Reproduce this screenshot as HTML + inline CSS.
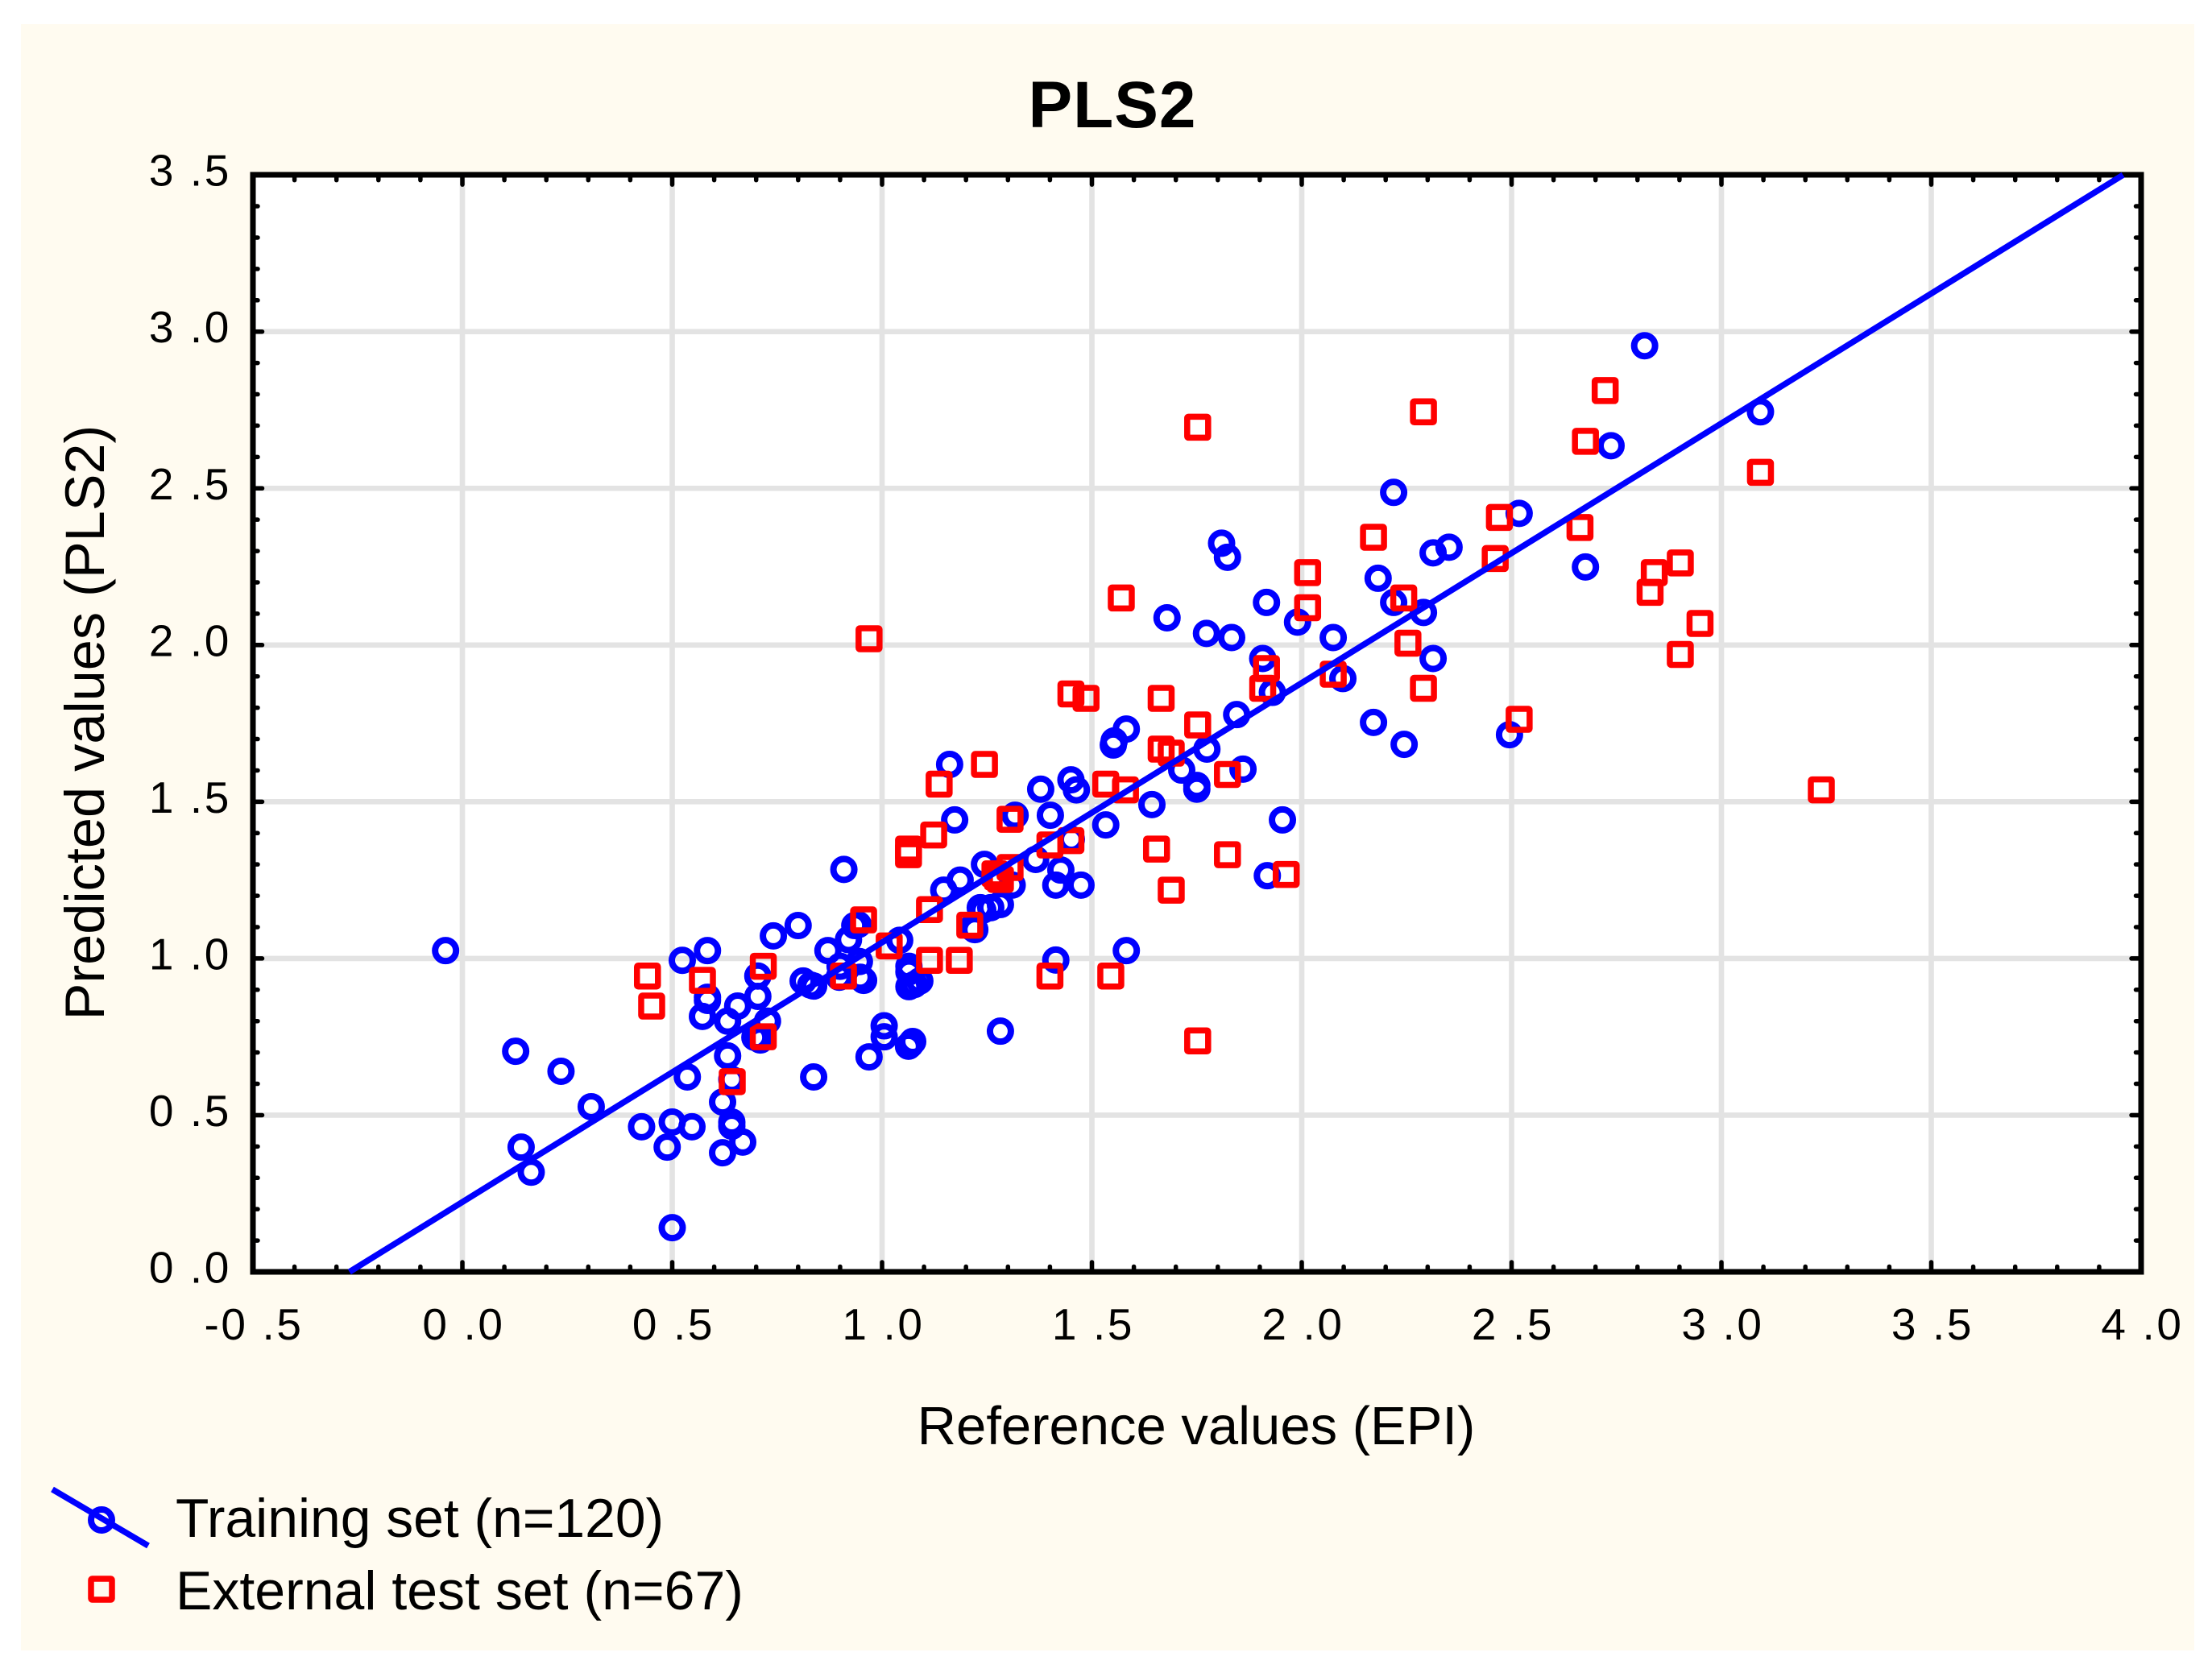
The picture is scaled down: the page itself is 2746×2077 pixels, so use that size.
<!DOCTYPE html>
<html lang="en">
<head>
<meta charset="utf-8">
<title>PLS2 chart</title>
<style>
html,body{margin:0;padding:0;background:#fff;width:2746px;height:2077px;overflow:hidden}
svg{display:block;font-family:"Liberation Sans",Arial,sans-serif}
</style>
</head>
<body>
<svg id="chart" xmlns="http://www.w3.org/2000/svg" width="2746" height="2077" viewBox="0 0 2746 2077">
<rect x="26" y="30" width="2698" height="2019" fill="#fffbf0"/>
<rect x="314" y="217" width="2344" height="1362" fill="#ffffff"/>
<g id="grid"></g>
<g id="ticks"></g>
<rect x="314" y="217" width="2344" height="1362" fill="none" stroke="#000" stroke-width="7"/>
<g id="tickLabels"></g>
<g id="training"></g>
<g id="test"></g>
<g id="fit"></g>
<text x="1381" y="158" font-size="82" font-weight="bold" letter-spacing="1" text-anchor="middle">PLS2</text>
<text x="1485" y="1793" font-size="67" text-anchor="middle">Reference values (EPI)</text>
<text transform="translate(129,897) rotate(-90)" font-size="68.5" text-anchor="middle">Predicted values (PLS2)</text>
<line x1="65" y1="1849" x2="184" y2="1919" stroke="#0000ff" stroke-width="7.5"/>
<circle cx="126" cy="1887" r="13" fill="none" stroke="#0000ff" stroke-width="8"/>
<text x="218" y="1908" font-size="67.8">Training set (n=120)</text>
<rect x="113" y="1960" width="26" height="26" rx="1.5" fill="none" stroke="#ff0000" stroke-width="7.5"/>
<text x="218" y="1998" font-size="68">External test set (n=67)</text>
</svg>
<script>
const xTickLabels = ["-0 .5","0 .0","0 .5","1 .0","1 .5","2 .0","2 .5","3 .0","3 .5","4 .0"];
const xTickValues = [-0.5,0,0.5,1,1.5,2,2.5,3,3.5,4];
const yTickLabels = ["0 .0","0 .5","1 .0","1 .5","2 .0","2 .5","3 .0","3 .5"];
const yTickValues = [0,0.5,1,1.5,2,2.5,3,3.5];
const fitLineX = [-0.269,3.957];
const fitLineY = [0,3.5];
const trainingPoints = [
[-0.04,1.025],[0.127,0.704],[0.14,0.398],[0.164,0.318],[0.235,0.64],[0.307,0.527],[0.427,0.463],[0.488,0.398],
[0.5,0.478],[0.547,0.463],[0.5,0.141],[0.536,0.622],[0.524,0.994],[0.584,1.025],[0.584,0.876],[0.584,0.866],
[0.572,0.815],[0.632,0.8],[0.656,0.848],[0.704,0.879],[0.704,0.944],[0.727,0.8],[0.704,0.75],[0.697,0.748],
[0.71,0.74],[0.632,0.689],[0.642,0.614],[0.62,0.542],[0.642,0.478],[0.642,0.465],[0.668,0.414],[0.62,0.38],
[0.837,0.622],[0.741,1.072],[0.8,1.105],[0.812,0.928],[0.837,0.912],[0.871,1.025],[0.83,0.915],[0.909,1.284],
[0.935,1.105],[0.943,1.108],[0.92,1.06],[0.898,0.94],[0.9,0.975],[0.946,0.99],[0.948,0.94],[0.956,0.93],
[0.952,0.935],[1.042,1.058],[1.064,0.975],[1.064,0.957],[1.064,0.91],[1.09,0.928],[1.077,0.917],[1.005,0.785],
[1.005,0.75],[1.073,0.735],[1.067,0.725],[1.063,0.72],[0.969,0.686],[1.282,0.768],[1.414,0.995],[1.582,1.025],
[1.173,1.442],[1.161,1.619],[1.147,1.218],[1.186,1.25],[1.244,1.3],[1.24,1.154],[1.234,1.162],[1.259,1.162],
[1.221,1.092],[1.215,1.098],[1.282,1.172],[1.31,1.234],[1.317,1.457],[1.401,1.457],[1.378,1.54],[1.45,1.57],
[1.463,1.538],[1.533,1.426],[1.451,1.38],[1.366,1.316],[1.426,1.282],[1.414,1.234],[1.474,1.234],[1.582,1.732],
[1.553,1.694],[1.551,1.681],[1.774,1.668],[1.714,1.601],[1.75,1.552],[1.75,1.54],[1.86,1.604],[1.643,1.491],
[1.954,1.442],[1.918,1.264],[2.171,1.753],[2.244,1.683],[2.495,1.714],[1.845,1.778],[1.93,1.849],[2.098,1.893],
[1.907,1.957],[2.313,1.957],[1.679,2.087],[1.773,2.037],[1.833,2.024],[2.075,2.024],[1.99,2.073],[1.916,2.136],
[2.219,2.136],[2.29,2.104],[2.182,2.213],[1.809,2.325],[1.823,2.28],[2.313,2.294],[2.351,2.312],[2.676,2.249],
[2.219,2.487],[2.518,2.42],[2.737,2.636],[3.093,2.744],[2.817,2.955]
];
const testPoints = [
[1.752,2.695],[2.29,2.744],[2.723,2.812],[2.676,2.65],[3.093,2.551],[2.471,2.407],[2.663,2.375],[2.461,2.276],
[2.171,2.344],[2.902,2.262],[2.84,2.231],[2.83,2.168],[2.949,2.069],[2.902,1.97],[2.014,2.231],[2.014,2.119],
[2.243,2.15],[1.57,2.15],[0.969,2.02],[2.253,2.006],[1.916,1.925],[2.075,1.907],[1.907,1.862],[2.29,1.862],
[1.45,1.844],[1.486,1.83],[1.665,1.83],[1.752,1.745],[2.518,1.763],[1.665,1.668],[1.689,1.655],[1.244,1.619],
[1.823,1.587],[1.136,1.556],[1.533,1.556],[1.58,1.538],[3.238,1.538],[1.305,1.444],[1.123,1.394],[1.45,1.376],
[1.4,1.362],[1.063,1.349],[1.063,1.331],[1.654,1.349],[1.823,1.331],[1.269,1.27],[1.282,1.252],[1.275,1.26],
[1.305,1.29],[1.963,1.268],[1.689,1.218],[1.113,1.156],[1.209,1.106],[0.956,1.123],[1.017,1.04],[1.184,0.994],
[1.113,0.994],[0.717,0.975],[0.441,0.944],[0.572,0.93],[0.451,0.848],[0.908,0.944],[1.4,0.944],[1.545,0.944],
[0.717,0.75],[0.643,0.607],[1.752,0.737]
];

const NS = "http://www.w3.org/2000/svg";
const xScale = v => 574 + 521 * v;
const yScale = v => 1579 - 389.1 * v;
function make(tag, parent, props) {
  const el = document.createElementNS(NS, tag);
  for (const k in props) el.setAttribute(k, props[k]);
  document.getElementById(parent).appendChild(el);
  return el;
}
const gridProps = {stroke:"#e3e3e3","stroke-width":6.6};
const tickProps = {stroke:"#000","stroke-width":5.5,"stroke-linecap":"round"};

xTickValues.forEach((v, i) => {
  const px = xScale(v);
  if (i > 0 && i < xTickValues.length - 1) {
    const g = make("line", "grid", Object.assign({x1:px,x2:px,y1:yScale(3.5),y2:yScale(0)}, gridProps));
    
    
  }
  [[yScale(0), -1], [yScale(3.5), 1]].forEach(([base, dir]) => {
    const t = make("line", "ticks", Object.assign({x1:px,x2:px,y1:base,y2:base + dir * 12}, tickProps));
    
    
    if (i < xTickValues.length - 1) {
      for (let m = 1; m < 5; m++) {
        const mx = xScale(v + m * 0.1);
        const mt = make("line", "ticks", Object.assign({x1:mx,x2:mx,y1:base,y2:base + dir * 6.5}, tickProps));
        
        
      }
    }
  });
  const lab = make("text", "tickLabels", {x:px + 1.5,y:1663,"font-size":55,"letter-spacing":2.6,"text-anchor":"middle"});
  lab.textContent = xTickLabels[i];
  
  
});

yTickValues.forEach((v, i) => {
  const py = yScale(v);
  if (i > 0 && i < yTickValues.length - 1) {
    const g = make("line", "grid", Object.assign({x1:xScale(-0.5),x2:xScale(4),y1:py,y2:py}, gridProps));
    
    
  }
  [[xScale(-0.5), 1], [xScale(4), -1]].forEach(([base, dir]) => {
    const t = make("line", "ticks", Object.assign({x1:base,x2:base + dir * 12,y1:py,y2:py}, tickProps));
    
    
    if (i < yTickValues.length - 1) {
      for (let m = 1; m < 5; m++) {
        const my = yScale(v + m * 0.1);
        const mt = make("line", "ticks", Object.assign({x1:base,x2:base + dir * 6.5,y1:my,y2:my}, tickProps));
        
        
      }
    }
  });
  const lab = make("text", "tickLabels", {x:287,y:py + 13.5,"font-size":55,"letter-spacing":2.6,"text-anchor":"end"});
  lab.textContent = yTickLabels[i];
  
  
});

trainingPoints.forEach(p => {
  const c = make("circle", "training", {cx:xScale(p[0]),cy:yScale(p[1]),r:13,fill:"none",stroke:"#0000ff","stroke-width":8});
  
  
});
testPoints.forEach(p => {
  const s = make("rect", "test", {x:xScale(p[0]) - 13,y:yScale(p[1]) - 13,width:26,height:26,rx:1.5,fill:"none",stroke:"#ff0000","stroke-width":7.5});
  
  
});
const fitLine = make("line", "fit", {x1:xScale(fitLineX[0]),y1:yScale(fitLineY[0]),x2:xScale(fitLineX[1]),y2:yScale(fitLineY[1]),stroke:"#0000ff","stroke-width":7.5});


</script>
</body>
</html>
